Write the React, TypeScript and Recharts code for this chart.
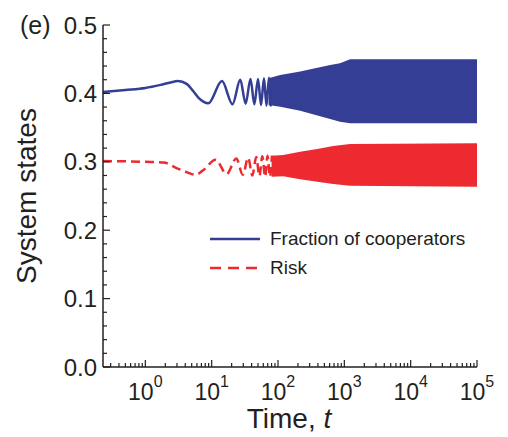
import React from 'react';
import { ComposedChart, Line, Area, XAxis, YAxis, Legend } from 'recharts';

// ---- data ----
const blueT = [0.23, 0.5, 1, 1.7, 2.4, 3.1, 4.2, 5.2, 6.3, 7.5, 8.9, 14.3, 20.6, 27, 32.5, 38.5, 44, 50, 55.5, 61.5, 67, 73, 78];
const blueV = [0.402, 0.405, 0.408, 0.4125, 0.416, 0.418, 0.414, 0.404, 0.394, 0.388, 0.3855, 0.418, 0.384, 0.42, 0.385, 0.421, 0.384, 0.421, 0.383, 0.422, 0.382, 0.423, 0.381];

const redT = [0.23, 1, 1.9, 3.0, 4.2, 5.7, 7.5, 11.5, 16.8, 23.5, 29.5, 35.5, 41, 47, 52.5, 58, 64, 69.5, 75.5, 81];
const redV = [0.301, 0.3, 0.299, 0.2905, 0.285, 0.281, 0.288, 0.303, 0.282, 0.305, 0.281, 0.306, 0.28, 0.307, 0.279, 0.308, 0.278, 0.309, 0.278, 0.309];

const blueBandT = [72, 108, 216, 611, 860, 1223, 100000];
const blueHigh = [0.422, 0.427, 0.432, 0.4415, 0.444, 0.45, 0.45];
const blueLow = [0.383, 0.3806, 0.3747, 0.3626, 0.3587, 0.3563, 0.3563];

const redBandT = [80, 120, 216, 390, 680, 1223, 100000];
const redHigh = [0.309, 0.31, 0.3148, 0.3187, 0.3231, 0.326, 0.327];
const redLow = [0.278, 0.279, 0.2744, 0.2709, 0.2675, 0.265, 0.2636];

const xMajorTicks = [1, 10, 100, 1000, 10000, 100000];
const xMinorMult = [2, 3, 4, 5, 6, 7, 8, 9];
const xDecades = [0.1, 1, 10, 100, 1000, 10000];
const yTicks = [0, 0.02, 0.04, 0.06, 0.08, 0.1, 0.12, 0.14, 0.16, 0.18, 0.2, 0.22, 0.24, 0.26, 0.28, 0.3, 0.32, 0.34, 0.36, 0.38, 0.4, 0.42, 0.44, 0.46, 0.48, 0.5];

const X_DOMAIN: [number, number] = [0.23, 100000];
const Y_DOMAIN: [number, number] = [0, 0.5];

const BLUE = '#343e95';
const RED = '#ec2a2f';
const INK = '#231f20';
const FONT = '"Liberation Sans", Arial, Helvetica, sans-serif';

const blueLine = blueT.map((t, i) => ({ t, v: blueV[i] }));
const redLine = redT.map((t, i) => ({ t, v: redV[i] }));
const blueBand = blueBandT.map((t, i) => ({ t, range: [blueLow[i], blueHigh[i]] }));
const redBand = redBandT.map((t, i) => ({ t, range: [redLow[i], redHigh[i]] }));

const xTicks = [
  ...xDecades.flatMap((d) => xMinorMult.map((m) => Number((d * m).toPrecision(3)))),
  ...xMajorTicks,
]
  .filter((v) => v >= X_DOMAIN[0] && v <= X_DOMAIN[1])
  .sort((a, b) => a - b);

const isMajorX = (v: number) => xMajorTicks.some((m) => Math.abs(m - v) < 1e-9);
const isMajorY = (v: number) => Math.abs(v * 10 - Math.round(v * 10)) < 1e-6;

const BottomTick = (props: any) => {
  const { x, y, payload } = props;
  const v = payload.value;
  const major = isMajorX(v);
  return (
    <g>
      <line x1={x} x2={x} y1={y} y2={y - (major ? 7 : 4)} stroke={INK} strokeWidth={1.2} />
      {major && (
        <text x={x} y={y + 33} textAnchor="middle" fontSize={23} fontFamily={FONT} fill={INK}>
          10
          <tspan dy={-13} fontSize={16}>
            {Math.round(Math.log10(v))}
          </tspan>
        </text>
      )}
    </g>
  );
};

const TopTick = (props: any) => {
  const { x, y, payload } = props;
  const major = isMajorX(payload.value);
  return <line x1={x} x2={x} y1={y} y2={y + (major ? 7 : 4)} stroke={INK} strokeWidth={1.2} />;
};

const LeftTick = (props: any) => {
  const { x, y, payload } = props;
  const v = payload.value;
  const major = isMajorY(v);
  return (
    <g>
      <line x1={x} x2={x + (major ? 7 : 4)} y1={y} y2={y} stroke={INK} strokeWidth={1.2} />
      {major && (
        <text x={x - 6} y={y} dy="0.36em" textAnchor="end" fontSize={24} fontFamily={FONT} fill={INK}>
          {v.toFixed(1)}
        </text>
      )}
    </g>
  );
};

const RightTick = (props: any) => {
  const { x, y, payload } = props;
  const major = isMajorY(payload.value);
  return <line x1={x} x2={x - (major ? 7 : 4)} y1={y} y2={y} stroke={INK} strokeWidth={1.2} />;
};

const LegendContent = () => (
  <div style={{ fontFamily: FONT, fontSize: 19, color: INK }}>
    <div style={{ display: 'flex', alignItems: 'center', height: 22, marginBottom: 7 }}>
      <svg width={50} height={6} style={{ marginRight: 10 }}>
        <line x1={0} x2={50} y1={3} y2={3} stroke={BLUE} strokeWidth={2.5} />
      </svg>
      <span>Fraction of cooperators</span>
    </div>
    <div style={{ display: 'flex', alignItems: 'center', height: 22 }}>
      <svg width={50} height={6} style={{ marginRight: 10 }}>
        <line x1={0} x2={50} y1={3} y2={3} stroke={RED} strokeWidth={2.5} strokeDasharray="11 7" />
      </svg>
      <span>Risk</span>
    </div>
  </div>
);

export default function App() {
  return (
    <div style={{ position: 'absolute', left: 0, top: 0, width: 508, height: 437, overflow: 'hidden', background: '#fff' }}>
      <ComposedChart width={508} height={437} margin={{ top: 25, right: 31, bottom: 0, left: 0 }}>
        <XAxis
          xAxisId="b"
          dataKey="t"
          type="number"
          scale="log"
          domain={X_DOMAIN}
          allowDataOverflow
          ticks={xTicks}
          interval={0}
          tickLine={false}
          tickSize={0}
          tickMargin={0}
          tick={BottomTick}
          height={70}
          axisLine={{ stroke: INK, strokeWidth: 1.5 }}
          label={{
            content: () => (
              <text x={289} y={428} textAnchor="middle" fontSize={28} fontFamily={FONT} fill={INK}>
                Time, <tspan fontStyle="italic">t</tspan>
              </text>
            ),
          }}
        />
        <XAxis
          xAxisId="top"
          orientation="top"
          dataKey="t"
          type="number"
          scale="log"
          domain={X_DOMAIN}
          allowDataOverflow
          ticks={xTicks}
          interval={0}
          tickLine={false}
          tickSize={0}
          tickMargin={0}
          tick={TopTick}
          height={0}
          axisLine={{ stroke: INK, strokeWidth: 1.5 }}
        />
        <YAxis
          yAxisId="l"
          type="number"
          domain={Y_DOMAIN}
          allowDataOverflow
          ticks={yTicks}
          interval={0}
          tickLine={false}
          tickSize={0}
          tickMargin={0}
          tick={LeftTick}
          width={103}
          axisLine={{ stroke: INK, strokeWidth: 1.5 }}
          label={{
            content: () => (
              <g>
                <text
                  x={0}
                  y={0}
                  transform="translate(36,196) rotate(-90)"
                  textAnchor="middle"
                  fontSize={28}
                  fontFamily={FONT}
                  fill={INK}
                >
                  System states
                </text>
                <text x={20} y={34} fontSize={25} fontFamily={FONT} fill={INK}>
                  (e)
                </text>
              </g>
            ),
          }}
        />
        <YAxis
          yAxisId="r"
          orientation="right"
          type="number"
          domain={Y_DOMAIN}
          allowDataOverflow
          ticks={yTicks}
          interval={0}
          tickLine={false}
          tickSize={0}
          tickMargin={0}
          tick={RightTick}
          width={0}
          axisLine={{ stroke: INK, strokeWidth: 1.5 }}
        />
        <Legend
          layout="vertical"
          verticalAlign="middle"
          align="center"
          content={LegendContent}
          wrapperStyle={{ left: 210, top: 228, width: 'auto' }}
        />
        <Area
          xAxisId="b"
          yAxisId="l"
          data={blueBand}
          dataKey="range"
          type="linear"
          stroke="none"
          fill={BLUE}
          fillOpacity={1}
          isAnimationActive={false}
          legendType="none"
        />
        <Area
          xAxisId="b"
          yAxisId="l"
          data={redBand}
          dataKey="range"
          type="linear"
          stroke="none"
          fill={RED}
          fillOpacity={1}
          isAnimationActive={false}
          legendType="none"
        />
        <Line
          xAxisId="b"
          yAxisId="l"
          data={blueLine}
          dataKey="v"
          type="monotone"
          stroke={BLUE}
          strokeWidth={2.5}
          dot={false}
          isAnimationActive={false}
        />
        <Line
          xAxisId="b"
          yAxisId="l"
          data={redLine}
          dataKey="v"
          type="monotone"
          stroke={RED}
          strokeWidth={2.5}
          strokeDasharray="9 5"
          dot={false}
          isAnimationActive={false}
        />
      </ComposedChart>
    </div>
  );
}
